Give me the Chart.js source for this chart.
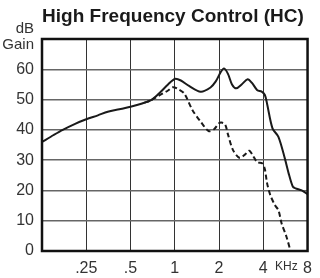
<!DOCTYPE html>
<html>
<head>
<meta charset="utf-8">
<script src="https://cdn.jsdelivr.net/npm/chart.js@4"></script>
<style>
  html, body { margin: 0; padding: 0; background: #fff; }
  canvas { display: block; }
</style>
</head>
<body>
<canvas id="hcChart" width="320" height="278"></canvas>
<script>
// frequency in kHz, gain in dB
const solidFreq = [0.125, 0.15, 0.173, 0.21, 0.25, 0.3, 0.35, 0.42, 0.5, 0.6, 0.7, 0.8, 0.9, 1.0, 1.1, 1.25, 1.5, 1.75, 1.9, 2.05, 2.16, 2.3, 2.45, 2.62, 2.85, 3.13, 3.35, 3.64, 3.9, 4.1, 4.24, 4.62, 5.07, 5.61, 6.0, 6.36, 6.63, 7.3, 8.0];
const solidGain = [36, 38.3, 40, 42, 43.5, 44.8, 46, 46.8, 47.6, 48.7, 50, 52.5, 55, 56.8, 56.3, 54.5, 52.6, 54, 56, 59, 60.3, 58.5, 55, 53.7, 55, 56.7, 55.5, 53.1, 52.6, 51.5, 48.7, 40.5, 37.7, 30.5, 25, 21.2, 20.7, 20, 18.8];

const dashFreq = [0.62, 0.7, 0.8, 0.9, 0.97, 1.05, 1.16, 1.32, 1.5, 1.7, 1.85, 2.0, 2.08, 2.2, 2.3, 2.49, 2.75, 3.0, 3.21, 3.4, 3.64, 3.93, 4.1, 4.24, 4.46, 4.82, 5.07, 5.33, 5.75, 6.13];
const dashGain = [48.9, 50, 51.6, 53, 54.1, 53.5, 52, 46.5, 42.7, 39.6, 40.2, 42.2, 42.4, 41.8, 38.5, 33.3, 30.8, 31.8, 33.1, 31.5, 29.3, 29, 27, 22.5, 18.5, 15, 13.5, 9.1, 4.7, 0];

const freqTicks = [0.125, 0.25, 0.5, 1, 2, 4, 8];
const freqLabels = ["", ".25", ".5", "1", "2", "4", "8"];

function toPoints(xs, ys) {
  return xs.map((x, i) => ({ x: x, y: ys[i] }));
}

const textPlugin = {
  id: "textPlugin",
  afterDraw(chart) {
    const ctx = chart.ctx;
    const a = chart.chartArea;
    ctx.save();
    // frame
    ctx.strokeStyle = "#111";
    ctx.lineWidth = 2.5;
    ctx.strokeRect(a.left, a.top, a.right - a.left, a.bottom - a.top);
    // title
    ctx.fillStyle = "#1a1a1a";
    ctx.textBaseline = "middle";
    ctx.textAlign = "center";
    ctx.font = "bold 19px 'Liberation Sans', Arial, sans-serif";
    ctx.fillText("High Frequency Control (HC)", 173, 17);
    // dB / Gain
    ctx.fillStyle = "#333";
    ctx.textAlign = "right";
    ctx.font = "15px 'Liberation Sans Narrow', 'Liberation Sans', sans-serif";
    ctx.fillText("dB", 34, 29);
    ctx.fillText("Gain", 34, 45);
    // KHz unit
    ctx.textAlign = "center";
    ctx.font = "12px 'Liberation Sans', sans-serif";
    const xs = chart.scales.x;
    ctx.fillText("KHz", (xs.getPixelForValue(4) + xs.getPixelForValue(8)) / 2 + 1, 267);
    ctx.restore();
  }
};

new Chart(document.getElementById("hcChart"), {
  type: "line",
  data: {
    datasets: [
      {
        data: toPoints(solidFreq, solidGain),
        borderColor: "#1a1a1a",
        borderWidth: 2,
        pointRadius: 0,
        tension: 0.3,
        fill: false
      },
      {
        data: toPoints(dashFreq, dashGain),
        borderColor: "#1a1a1a",
        borderWidth: 2,
        borderDash: [5, 3],
        pointRadius: 0,
        tension: 0.3,
        fill: false
      }
    ]
  },
  options: {
    responsive: false,
    animation: false,
    layout: { padding: { top: 39, right: 5, left: 0, bottom: 0 } },
    plugins: {
      legend: { display: false },
      title: { display: false },
      tooltip: { enabled: false }
    },
    scales: {
      x: {
        type: "logarithmic",
        min: 0.125,
        max: 8,
        afterBuildTicks(scale) {
          scale.ticks = freqTicks.map(v => ({ value: v }));
        },
        afterFit(scale) { scale.height = 27; },
        ticks: {
          autoSkip: false,
          maxRotation: 0,
          padding: 8,
          color: "#333",
          font: { size: 16, family: "'Liberation Sans', Arial, sans-serif" },
          callback: function (value) {
            const i = freqTicks.indexOf(value);
            return i >= 0 ? freqLabels[i] : "";
          }
        },
        grid: { color: "#333", lineWidth: 1, drawTicks: false },
        border: { display: false }
      },
      y: {
        min: 0,
        max: 70,
        afterFit(scale) { scale.width = 42; },
        ticks: {
          stepSize: 10,
          padding: 8,
          color: "#333",
          font: { size: 16, family: "'Liberation Sans', Arial, sans-serif" },
          callback: v => (v === 70 ? "" : v)
        },
        grid: { color: "#666", lineWidth: 1.5, drawTicks: false },
        border: { display: false }
      }
    }
  },
  plugins: [textPlugin]
});
</script>
</body>
</html>
